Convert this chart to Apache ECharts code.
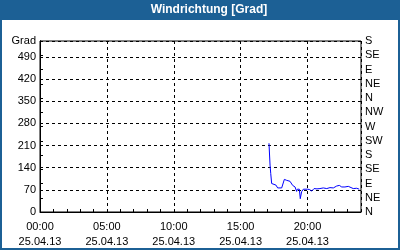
<!DOCTYPE html>
<html>
<head>
<meta charset="utf-8">
<script src="https://cdn.jsdelivr.net/npm/echarts@6/dist/echarts.min.js"></script>
<style>
html,body{margin:0;padding:0;background:#fff;}
#c{width:400px;height:250px;}
</style>
</head>
<body>
<div id="c"></div>
<script>
// Data (hours of 25.04.13, wind direction in degrees)
var hours = [17.12,17.20,17.25,17.32,17.64,17.77,18.07,18.27,18.44,18.69,18.89,19.07,19.19,19.24,19.39,19.46,19.56,19.69,19.81,19.99,20.16,20.31,20.49,20.71,20.93,21.18,21.44,21.68,21.93,22.18,22.38,22.56,22.80,23.05,23.18,23.42,23.68,23.87];
var degrees = [217,148,122,90,85,76,76,103,100,97,84,79,65,72,72,42,64,72,72,72,71,66,74,73,74,76,74,77,76,82,84,79,79,81,77,74,75,72];
var leftTicks = [0,70,140,210,280,350,420,490];
var compass = ['N','NE','E','SE','S','SW','W','NW','N','NE','E','SE','S'];
var dateLabel = '25.04.13';
var titleText = 'Windrichtung [Grad]';
var unitLabel = 'Grad';

var FONT = 'Liberation Sans';
var BLUE = '#1c6095';
var chart = echarts.init(document.getElementById('c'), null, {renderer:'canvas'});
var pts = hours.map(function(h,i){return [h, degrees[i]];});
function pad(n){return (n<10?'0':'')+n;}

chart.setOption({
  animation:false,
  backgroundColor:'#fff',
  graphic:[
    {type:'rect', shape:{x:0,y:0,width:400,height:20}, style:{fill:BLUE}, silent:true},
    {type:'rect', shape:{x:0,y:0,width:2,height:250}, style:{fill:BLUE}, silent:true},
    {type:'rect', shape:{x:398,y:0,width:2,height:250}, style:{fill:BLUE}, silent:true},
    {type:'rect', shape:{x:0,y:248,width:400,height:2}, style:{fill:BLUE}, silent:true},
    {type:'text', x:209, y:10, style:{text:titleText, fill:'#fff', font:'bold 12px "'+FONT+'"', align:'center', verticalAlign:'middle'}, silent:true}
  ],
  grid:{left:40, right:39, top:41, bottom:38, show:true, borderColor:'#000', borderWidth:1, backgroundColor:'transparent'},
  xAxis:[
    {type:'value', min:0, max:24, interval:5, position:'bottom',
     axisLine:{show:true, lineStyle:{color:'#000'}},
     axisTick:{show:false},
     splitLine:{show:true, lineStyle:{color:'#000', type:[3,3], width:1}},
     axisLabel:{show:true, color:'#000', fontFamily:FONT, fontSize:11, lineHeight:15, margin:7,
       formatter:function(v){ if(v%5!==0) return ''; return pad(v)+':00\n'+dateLabel; }}
    },
    {type:'value', min:0, max:24, interval:1, position:'bottom',
     axisLine:{show:false}, axisLabel:{show:false}, splitLine:{show:false},
     axisTick:{show:true, inside:true, length:3, lineStyle:{color:'#000'}}
    }
  ],
  yAxis:[
    {type:'value', min:0, max:540, interval:70, position:'left',
     axisLine:{show:true, lineStyle:{color:'#000'}},
     axisTick:{show:false},
     splitLine:{show:true, lineStyle:{color:'#000', type:[3,3], width:1}},
     axisLabel:{color:'#000', fontFamily:FONT, fontSize:11, margin:4, padding:[2,0,0,0],
       formatter:function(v){ if(v===540) return unitLabel; return leftTicks.indexOf(v)>=0 ? String(v) : ''; }}
    },
    {type:'value', min:0, max:540, interval:45, position:'right',
     axisLine:{show:true, lineStyle:{color:'#000'}},
     axisTick:{show:true, inside:false, length:3, lineStyle:{color:'#000'}},
     splitLine:{show:false},
     axisLabel:{color:'#000', fontFamily:FONT, fontSize:11, margin:4,
       formatter:function(v){ return compass[Math.round(v/45)] || ''; }}
    }
  ],
  series:[
    {type:'line', xAxisIndex:0, yAxisIndex:0, data:pts, showSymbol:false, symbol:'none',
     lineStyle:{color:'#0000ff', width:1}, z:5}
  ]
});
</script>
</body>
</html>
